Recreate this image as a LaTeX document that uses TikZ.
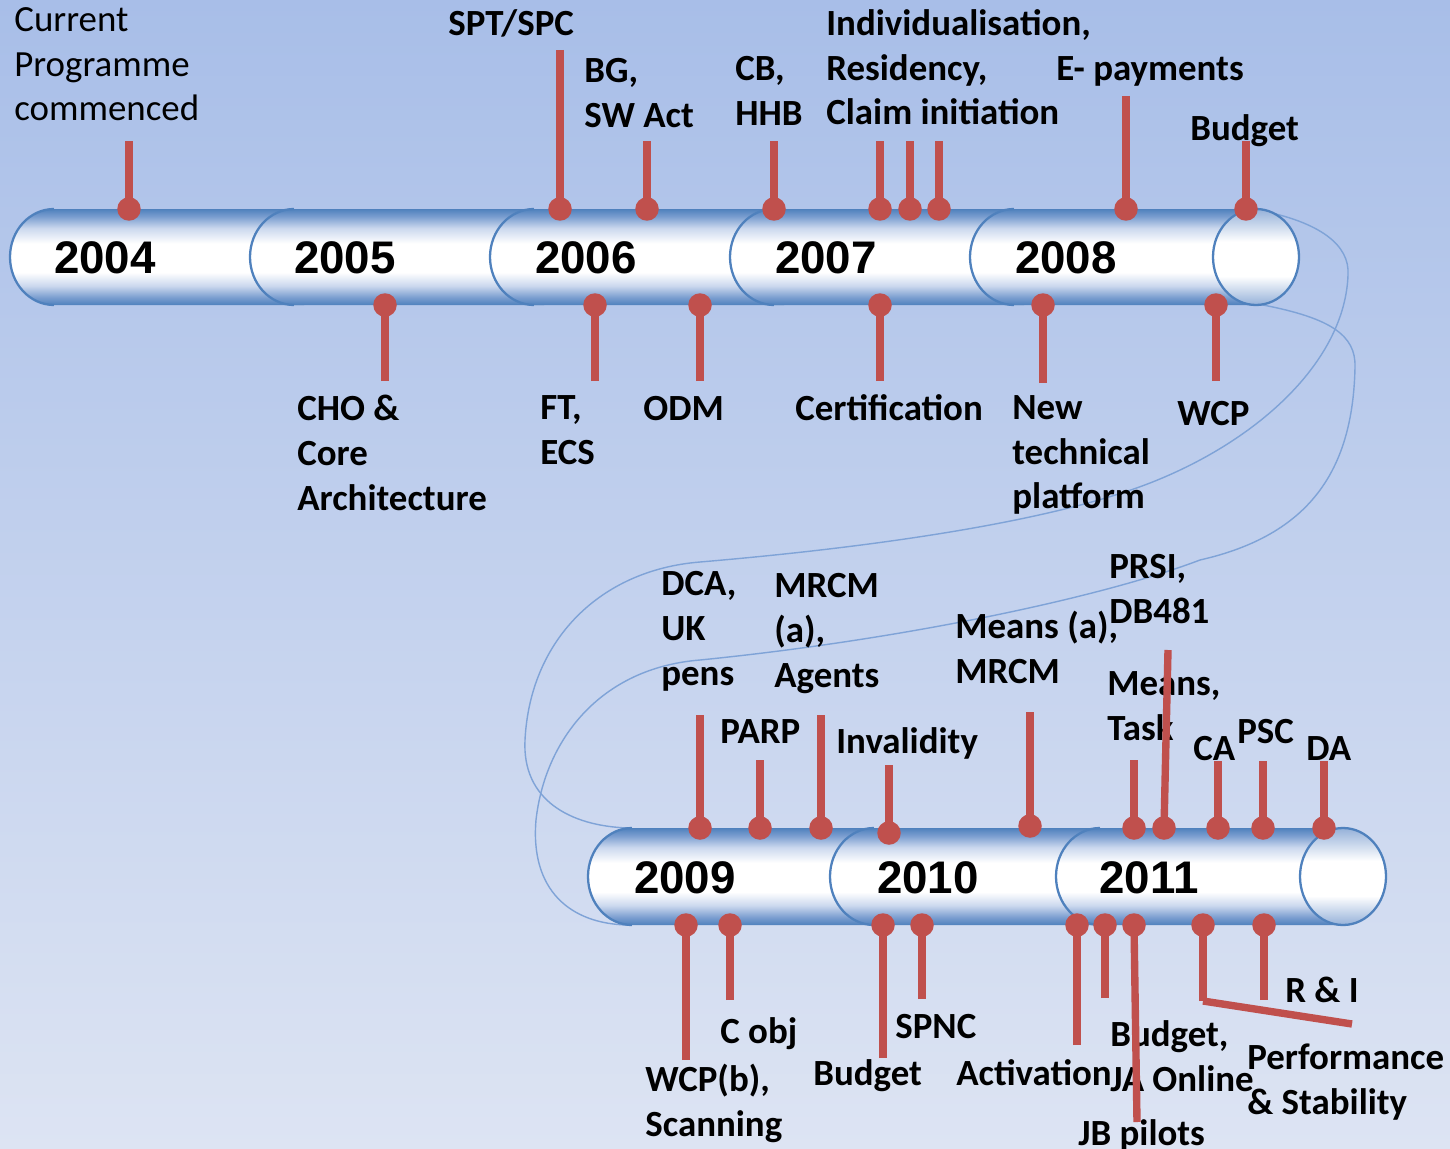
\documentclass[tikz,border=0pt]{standalone}
\usepackage{fontspec}
\setmainfont{Carlito}
\newfontfamily\yearface{Liberation Sans}
\definecolor{BgTop}{HTML}{A8BEE8}
\definecolor{BgBottom}{HTML}{DDE4F3}
\definecolor{PipeBlue}{HTML}{4F81BD}
\definecolor{PipeMid}{HTML}{7B9ED0}
\definecolor{PipeLight}{HTML}{CBD8EE}
\definecolor{CapBlue}{HTML}{95B1D9}
\definecolor{PinRed}{HTML}{C0504D}
\definecolor{LoopBlue}{HTML}{7FA3D7}
\pgfdeclareverticalshading{pipeshade}{100bp}{color(0bp)=(PipeBlue); color(25bp)=(PipeBlue);
  color(29bp)=(PipeMid); color(35bp)=(PipeLight); color(42bp)=(white); color(57bp)=(white);
  color(65bp)=(PipeLight); color(71bp)=(PipeMid); color(75bp)=(PipeBlue); color(100bp)=(PipeBlue)}
\pgfdeclareverticalshading{capshade}{100bp}{color(0bp)=(CapBlue); color(25bp)=(CapBlue);
  color(40bp)=(white); color(58bp)=(white); color(75bp)=(CapBlue); color(100bp)=(CapBlue)}
\newcommand\evfont{\fontsize{21}{25.5}\selectfont\bfseries}
\newcommand\evplain{\fontsize{21}{25.5}\selectfont}
\newcommand\yrfont{\yearface\fontsize{26}{30}\selectfont\bfseries}

\begin{document}
\begin{tikzpicture}[x=0.02cm,y=-0.02cm]
  \tikzstyle{pinstem}=[draw=PinRed,line width=4.2pt]
  \tikzstyle{pindot}=[circle,fill=PinRed,inner sep=0pt,minimum size=0.47cm]
  \tikzstyle{evlabel}=[anchor=north west,inner sep=0pt,align=left,
    font=\evfont,execute at begin node=\strut]
  \tikzstyle{yearlabel}=[inner sep=0pt,font=\yrfont]
  \tikzstyle{pipeedge}=[draw=PipeBlue,line width=1.3pt]
  \tikzstyle{loopline}=[draw=LoopBlue,line width=0.8pt]
  \useasboundingbox (0,0) rectangle (1450,1149);
  \shade[top color=BgTop,bottom color=BgBottom] (0,0) rectangle (1450,1149);

  % the two loops joining the rows
  \coordinate (captop) at (1258,210);
  \coordinate (capbot) at (1263,305);
  \coordinate (lowtop) at (628,828);
  \coordinate (lowbot) at (628,925);
  \draw[loopline] (captop) .. controls (1320,222) and (1350,245) .. (1348,275)
    .. controls (1345,360) and (1260,440) .. (1150,483)
    .. controls (1060,518) and (900,545) .. (700,562)
    .. controls (600,570) and (530,640) .. (525,740)
    .. controls (522,800) and (570,826) .. (lowtop);
  \draw[loopline] (capbot) .. controls (1330,318) and (1356,335) .. (1355,367)
    .. controls (1353,470) and (1310,535) .. (1200,560)
    .. controls (1100,598) and (900,640) .. (700,660)
    .. controls (600,668) and (545,740) .. (536,820)
    .. controls (530,890) and (570,924) .. (lowbot);

  % upper pipe
  \foreach \a/\b in {10/304,250/544,490/784,730/1024,970/1256} {
    \shade[shading=pipeshade] (\a+44,209) arc[start angle=270,end angle=90,x radius=44,y radius=48]
      -- (\b,305) -- (\b,209) -- cycle;
    \draw[pipeedge] (\a+44,209) arc[start angle=270,end angle=90,x radius=44,y radius=48];
  }
  \shade[shading=capshade] (1256,257) ellipse[x radius=43,y radius=48];
  \draw[pipeedge] (1256,257) ellipse[x radius=43,y radius=48];

  % lower pipe
  \foreach \a/\b in {588/884,830/1110,1056/1343} {
    \shade[shading=pipeshade] (\a+44,828) arc[start angle=270,end angle=90,x radius=44,y radius=48.5]
      -- (\b,925) -- (\b,828) -- cycle;
    \draw[pipeedge] (\a+44,828) arc[start angle=270,end angle=90,x radius=44,y radius=48.5];
  }
  \shade[shading=capshade] (1343,876.5) ellipse[x radius=43,y radius=48.5];
  \draw[pipeedge] (1343,876.5) ellipse[x radius=43,y radius=48.5];

  % years
  \node[yearlabel] (y04) at (105,258) {2004};
  \node[yearlabel] (y05) at (345,258) {2005};
  \node[yearlabel] (y06) at (586,258) {2006};
  \node[yearlabel] (y07) at (826,258) {2007};
  \node[yearlabel] (y08) at (1066,258) {2008};
  \node[yearlabel] (y09) at (685,878) {2009};
  \node[yearlabel] (y10) at (928,878) {2010};
  \node[yearlabel] (y11) at (1149,878) {2011};

  % labels, upper row
  \node[evlabel,font=\evplain] (cur) at (14,7) {Current\\Programme\\commenced};
  \node[evlabel] (spt) at (448,4) {SPT/SPC};
  \node[evlabel] (bg) at (584,58) {BG,\\SW Act};
  \node[evlabel] (cb) at (735,56) {CB,\\HHB};
  \node[evlabel] (ind) at (826,9) {Individualisation,\\Residency,\\Claim initiation};
  \node[evlabel] (epay) at (1056,49) {E- payments};
  \node[evlabel] (bud1) at (1190,109) {Budget};
  \node[evlabel] (cho) at (297,395) {CHO \&\\Core\\Architecture};
  \node[evlabel] (ft) at (540,395) {FT,\\ECS};
  \node[evlabel] (odm) at (643,389) {ODM};
  \node[evlabel] (cert) at (795,389) {Certification};
  \node[evlabel] (ntp) at (1012,395) {New\\technical\\platform};
  \node[evlabel] (wcp) at (1177,394) {WCP};

  % labels, lower row
  \node[evlabel] (dca) at (661,571) {DCA,\\UK\\pens};
  \node[evlabel] (mrcm) at (774,573) {MRCM\\(a),\\Agents};
  \node[evlabel] (parp) at (720,712) {PARP};
  \node[evlabel] (inv) at (836,722) {Invalidity};
  \node[evlabel] (meana) at (955,611) {Means (a),\\MRCM};
  \node[evlabel] (prsi) at (1109,554) {PRSI,\\DB481};
  \node[evlabel] (means) at (1107,671) {Means,\\Task};
  \node[evlabel] (ca) at (1193,729) {CA};
  \node[evlabel] (psc) at (1237,712) {PSC};
  \node[evlabel] (da) at (1306,729) {DA};
  \node[evlabel] (cobj) at (720,1012) {C obj};
  \node[evlabel] (wcpb) at (645,1064) {WCP(b),\\Scanning};
  \node[evlabel] (spnc) at (895,1007) {SPNC};
  \node[evlabel] (bud2) at (813,1054) {Budget};
  \node[evlabel] (act) at (956,1054) {Activation};
  \node[evlabel] (bud3) at (1110,1020) {Budget,\\JA Online};
  \node[evlabel] (jb) at (1078,1114) {JB pilots};
  \node[evlabel] (ri) at (1285,971) {R \& I};
  \node[evlabel] (perf) at (1247,1044) {Performance\\\& Stability};

  % pins: name/x/y/end x/end y
  \foreach \n/\x/\y/\u/\v in {pa/129/209/129/141, pb/560/209/560/50, pc/647/209/647/141,
      pd/774/209/774/141, pe/880/209/880/141, pf/910/209/910/141, pg/939/209/939/141,
      ph/1126/209/1126/96, pi/1246/209/1246/141,
      qa/385/305/385/381, qb/595/305/595/381, qc/700/305/700/381, qd/880/305/880/381,
      qe/1043/305/1043/383, qf/1216/305/1216/381,
      ra/700/828/700/715, rb/760/828/760/760, rc/821/828/821/715, rd/889/833/889/765,
      re/1030/826/1030/712, rf/1134/828/1134/760, rg/1164/828/1168/650, rh/1218/828/1218/761,
      ri/1263/828/1263/761, rj/1324/828/1324/761,
      sa/686/925/686/1060, sb/730/925/730/1000, sc/883/925/883/1058, sd/922/925/922/999,
      se/1077/925/1077/1045, sf/1105/925/1105/998, sg/1134/925/1137/1122,
      sh/1203/925/1203/1001, si/1264/925/1264/1000} {
    \draw[pinstem] (\u,\v) -- (\x,\y);
    \node[pindot] (\n) at (\x,\y) {};
  }
  \coordinate (perfend) at (1352,1024);
  \draw[pinstem] (1203,1001) -- (perfend);
\end{tikzpicture}
\end{document}
